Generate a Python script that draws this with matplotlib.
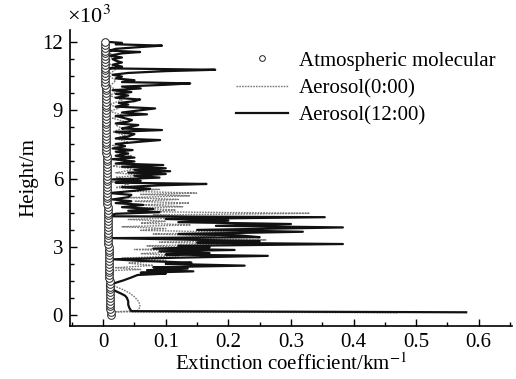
import numpy as np
import matplotlib
matplotlib.use("Agg")
import matplotlib.pyplot as plt
from matplotlib.ticker import MultipleLocator

plt.rcParams['font.family'] = ['Liberation Serif', 'DejaVu Serif']
plt.rcParams['mathtext.fontset'] = 'stix'

# ---------------- data ----------------
# Atmospheric molecular extinction (km^-1) at 125 m steps, 0..12000 m
mol_height = np.arange(0, 12001, 125)
mol_ext = [0.0120, 0.0118, 0.0116, 0.0115, 0.0113, 0.0111, 0.0110, 0.0108, 0.0107, 0.0105,
           0.0104, 0.0102, 0.0101, 0.0099, 0.0098, 0.0096, 0.0095, 0.0094, 0.0092, 0.0091,
           0.0090, 0.0088, 0.0087, 0.0086, 0.0085, 0.0083, 0.0082, 0.0081, 0.0080, 0.0079,
           0.0078, 0.0076, 0.0075, 0.0074, 0.0073, 0.0072, 0.0071, 0.0070, 0.0069, 0.0068,
           0.0067, 0.0066, 0.0065, 0.0064, 0.0063, 0.0062, 0.0061, 0.0060, 0.0059, 0.0058,
           0.0057, 0.0057, 0.0056, 0.0055, 0.0054, 0.0053, 0.0053, 0.0052, 0.0051, 0.0050,
           0.0050, 0.0049, 0.0048, 0.0047, 0.0047, 0.0046, 0.0045, 0.0045, 0.0044, 0.0043,
           0.0043, 0.0042, 0.0041, 0.0041, 0.0040, 0.0040, 0.0039, 0.0038, 0.0038, 0.0037,
           0.0037, 0.0036, 0.0036, 0.0035, 0.0035, 0.0034, 0.0034, 0.0033, 0.0033, 0.0032,
           0.0032, 0.0031, 0.0031, 0.0030, 0.0030, 0.0029, 0.0029]

# Aerosol (0:00): heights (m) and extinction (km^-1)
a0_height = [100, 140, 200, 350, 500, 650, 800, 950, 1100, 1250, 1350, 1450, 1600, 1750, 1850,
             1950, 2000, 2080, 2180, 2280, 2400, 2500, 2600, 2700, 2800, 2880, 2960, 3040, 3120,
             3200, 3300, 3380, 3480, 3560, 3640, 3720, 3800, 3880, 3960, 4040, 4120, 4200, 4300,
             4400, 4470, 4540, 4620, 4700, 4760, 4840, 4920, 5000, 5080, 5160, 5240, 5300, 5360,
             5440, 5520, 5600, 5750, 5850, 5950, 6050, 6150, 6250, 6400, 6550, 6700, 6850, 7000,
             7150, 7300, 7450, 7600, 7750, 7900, 8050, 8200, 8350, 8500, 8650, 8800, 8950, 9100,
             9250, 9450, 9650, 9850, 10050, 10300, 10550, 10800, 11100, 11400, 11700, 12000]
a0_ext = [0.47, 0.02, 0.055, 0.059, 0.058, 0.055, 0.050, 0.043, 0.033, 0.020, 0.012, 0.008, 0.005,
          0.004, 0.008, 0.010, 0.060, 0.020, 0.080, 0.040, 0.100, 0.030, 0.120, 0.060, 0.140,
          0.050, 0.155, 0.070, 0.200, 0.090, 0.260, 0.100, 0.180, 0.080, 0.210, 0.060, 0.100,
          0.030, 0.140, 0.060, 0.100, 0.040, 0.160, 0.080, 0.330, 0.070, 0.116, 0.050, 0.127,
          0.060, 0.138, 0.050, 0.120, 0.040, 0.138, 0.060, 0.149, 0.040, 0.090, 0.020, 0.040,
          0.015, 0.050, 0.020, 0.060, 0.020, 0.050, 0.015, 0.040, 0.020, 0.045, 0.020, 0.035,
          0.015, 0.040, 0.020, 0.035, 0.015, 0.030, 0.020, 0.035, 0.015, 0.030, 0.010, 0.025,
          0.010, 0.030, 0.010, 0.025, 0.010, 0.020, 0.008, 0.020, 0.008, 0.015, 0.006, 0.010]

# Aerosol (12:00): heights (m) and extinction (km^-1)
a12_height = [120, 170, 300, 450, 600, 750, 850, 950, 1050, 1150, 1280, 1400, 1520, 1650, 1760,
              1820, 1860, 1920, 1970, 2040, 2100, 2170, 2250, 2300, 2380, 2450, 2520, 2600, 2660,
              2720, 2800, 2860, 2920, 2980, 3040, 3120, 3180, 3250, 3320, 3380, 3420, 3500, 3560,
              3660, 3740, 3850, 3920, 4000, 4080, 4150, 4220, 4300, 4340, 4450, 4520, 4580, 4660,
              4740, 4840, 4920, 5000, 5080, 5180, 5280, 5360, 5460, 5550, 5620, 5700, 5760, 5820,
              5900, 5960, 6040, 6120, 6200, 6260, 6320, 6380, 6450, 6520, 6590, 6660, 6750, 6850,
              6920, 7000, 7100, 7180, 7250, 7320, 7420, 7520, 7620, 7690, 7760, 7850, 7950, 8050,
              8130, 8200, 8280, 8350, 8420, 8500, 8570, 8680, 8750, 8820, 8900, 9000, 9080, 9160,
              9250, 9320, 9400, 9470, 9550, 9650, 9720, 9800, 9880, 9960, 10040, 10120, 10180,
              10240, 10320, 10400, 10480, 10560, 10640, 10720, 10780, 10840, 10920, 11000, 11100,
              11180, 11250, 11320, 11400, 11500, 11560, 11620, 11700, 11780, 11840, 11900, 11960,
              12000]
a12_ext = [0.580, 0.045, 0.042, 0.040, 0.040, 0.038, 0.035, 0.028, 0.020, 0.014, 0.006, 0.018,
           0.032, 0.045, 0.055, 0.100, 0.060, 0.144, 0.070, 0.135, 0.080, 0.226, 0.100, 0.141,
           0.060, 0.015, 0.120, 0.263, 0.100, 0.170, 0.090, 0.210, 0.080, 0.170, 0.120, 0.383,
           0.150, 0.250, 0.120, 0.010, 0.250, 0.218, 0.120, 0.319, 0.150, 0.383, 0.180, 0.300,
           0.120, 0.200, 0.100, 0.354, 0.005, 0.020, 0.090, 0.040, 0.080, 0.030, 0.064, 0.020,
           0.045, 0.015, 0.040, 0.045, 0.010, 0.050, 0.075, 0.030, 0.090, 0.165, 0.020, 0.060,
           0.015, 0.090, 0.050, 0.100, 0.040, 0.107, 0.050, 0.100, 0.030, 0.096, 0.020, 0.050,
           0.015, 0.050, 0.020, 0.040, 0.020, 0.047, 0.015, 0.035, 0.020, 0.060, 0.091, 0.020,
           0.040, 0.050, 0.020, 0.094, 0.030, 0.045, 0.056, 0.020, 0.040, 0.046, 0.030, 0.020,
           0.070, 0.030, 0.060, 0.083, 0.020, 0.040, 0.025, 0.050, 0.059, 0.020, 0.040, 0.020,
           0.045, 0.015, 0.060, 0.030, 0.100, 0.139, 0.030, 0.050, 0.020, 0.030, 0.015, 0.040,
           0.100, 0.179, 0.010, 0.030, 0.015, 0.030, 0.020, 0.015, 0.030, 0.010, 0.030, 0.059,
           0.010, 0.020, 0.060, 0.094, 0.020, 0.030, 0.010]

labels = ["Atmospheric molecular", "Aerosol(0:00)", "Aerosol(12:00)"]
x_ticks = [0, 0.1, 0.2, 0.3, 0.4, 0.5, 0.6]
y_ticks = [0, 3, 6, 9, 12]

# ---------------- plot ----------------
fig = plt.figure(figsize=(5.16, 3.79), dpi=100)
ax = fig.add_axes([0.1357, 0.14, 0.8563, 0.781])

ax.plot(a0_ext, np.array(a0_height) / 1000, color='#7a7a7a', lw=1.0,
        linestyle=(0, (1.2, 0.8)), label=labels[1], zorder=2)
ax.plot(a12_ext, np.array(a12_height) / 1000, color='#111111', lw=1.6,
        label=labels[2], zorder=3)
ax.plot(mol_ext, mol_height / 1000, linestyle='none', marker='o', markersize=5.5,
        markerfacecolor='white', markeredgecolor='#222222', markeredgewidth=0.7,
        label=labels[0], zorder=4)

ax.set_xlim(-0.053, 0.653)
ax.set_ylim(-0.48, 12.53)
ax.set_xticks(x_ticks)
ax.set_xticklabels(['0', '0.1', '0.2', '0.3', '0.4', '0.5', '0.6'])
ax.set_yticks(y_ticks)
ax.xaxis.set_minor_locator(MultipleLocator(0.05))
ax.yaxis.set_minor_locator(MultipleLocator(0.75))
ax.tick_params(which='major', direction='in', length=5, width=1, labelsize=15, pad=5)
ax.tick_params(which='minor', direction='in', length=3, width=1)
ax.tick_params(top=False, right=False)
for s in ['top', 'right']:
    ax.spines[s].set_visible(False)
for s in ['left', 'bottom']:
    ax.spines[s].set_linewidth(1.2)

ax.set_xlabel('Extinction coefficient/km$^{-1}$', fontsize=15, labelpad=1)
ax.set_ylabel('Height/m', fontsize=15, labelpad=3)
fig.text(0.130, 0.955, '×10$^3$', fontsize=16, ha='left', va='center')

h0, l0 = ax.get_legend_handles_labels()
order = [2, 0, 1]
leg = ax.legend([h0[i] for i in order], [l0[i] for i in order], loc='upper left',
                bbox_to_anchor=(0.458, 0.865), bbox_transform=fig.transFigure,
                frameon=False, fontsize=15, handlelength=2.5, handletextpad=0.5,
                labelspacing=0.38, borderpad=0, borderaxespad=0, markerscale=0.75)

fig.savefig('out.png', dpi=100)
